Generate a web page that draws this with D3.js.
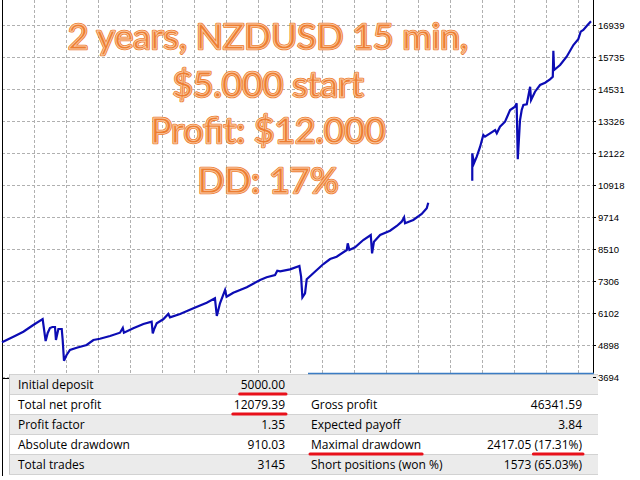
<!DOCTYPE html>
<html>
<head>
<meta charset="utf-8">
<script src="https://cdn.jsdelivr.net/npm/d3@7"></script>
<style>
  body { margin: 0; background: #fff; }
  svg { display: block; }
</style>
</head>
<body>
<svg id="chart" width="640" height="480"></svg>
<script>
// balance curve: trade number -> balance (null = gap in the curve)
const tradeNo = [0, 69, 114, 167, 217, 233, 244, 256, 269, 283, 288, 301, 319, 324, 331, 345, 363, 399, 452, 488,
    523, 577, 630, 645, 651, 701, 755, 799, 805, 812, 826, 861, 888, 897, 951, 1022, 1093, 1137, 1147, 1164,
    1191, 1199, 1235, 1307, 1378, 1413, 1458, 1470, 1485, 1538, 1588, 1597, 1604, 1618, 1627, 1662, 1716, 1752, 1787, 1841,
    1846, 1855, 1885, 1929, 1969, 1976, 1986, 2019, 2072, 2108, 2134, 2147, 2152, 2196, 2241, 2268, 2276,
    2390,
    2511, 2511, 2520, 2535, 2553, 2570, 2579, 2606, 2633, 2642, 2659, 2686, 2713, 2739, 2748, 2754, 2766, 2775, 2784, 2802,
    2820, 2825, 2846, 2873, 2900, 2926, 2941, 2944, 2948, 2980, 3015, 3051, 3077, 3090, 3104, 3122, 3145];
const balance = [5000, 5237, 5399, 5651, 5876, 5049, 5350, 5538, 5575, 5575, 5086, 5500, 5500, 5086, 4307, 4522, 4710, 4796, 4898, 5086,
    5135, 5237, 5361, 5538, 5361, 5526, 5688, 5775, 5338, 5489, 5714, 5865, 6065, 5940, 6065, 6279, 6490, 6655, 5989, 6467,
    6968, 6715, 6866, 7069, 7344, 7445, 7532, 7694, 7671, 7746, 7871, 7468, 6693, 6843, 7370, 7596, 7946, 8134, 8221, 8473,
    8725, 8473, 8574, 8849, 9037, 8348, 8785, 9037, 9199, 9376, 9538, 9703, 9477, 9602, 9827, 10042, 10253,
    null,
    11080, 12111, 11735, 11983, 12360, 12800, 12736, 12864, 12988, 12864, 13112, 13300, 13741, 13865, 13993, 11886, 13364, 13741, 13929, 13955,
    14617, 14117, 14429, 14681, 14768, 14896, 14994, 15972, 15246, 15434, 15746, 16186, 16401, 16687, 16751, 16901, 17079];

const totalTrades = 3145;
const yTicks = [3694, 4898, 6102, 7306, 8510, 9714, 10918, 12122, 13326, 14531, 15735, 16939];

const titleLines = ["2 years, NZDUSD 15 min,", "$5.000 start", "Profit: $12.000", "DD: 17%"];

// report table
const labelsLeft = ["Initial deposit", "Total net profit", "Profit factor", "Absolute drawdown", "Total trades"];
const valuesLeft = ["5000.00", "12079.39", "1.35", "910.03", "3145"];
const labelsRight = ["", "Gross profit", "Expected payoff", "Maximal drawdown", "Short positions (won %)"];
const valuesRight = ["", "46341.59", "3.84", "2417.05 (17.31%)", "1573 (65.03%)"];
// which bits got the red marker underline: [row, column, text]
const marked = [[0, 1, "5000.00"], [1, 1, "12079.39"], [3, 2, "Maximal drawdown"], [3, 3, "(17.31%)"]];

const svg = d3.select("#chart");
const plotLeft = 2, plotRight = 593, plotBottom = 378;

const x = d3.scaleLinear().domain([0, totalTrades]).range([plotLeft, 591]);
const y = d3.scaleLinear().domain([yTicks[0], yTicks[yTicks.length - 1]]).range([377, 25]);

// dashed grid
const gridColor = "#b0b0b0";
const vGrid = d3.range(34, plotRight - 8, 32);
svg.append("g").attr("class", "vgrid")
    .selectAll("line").data(vGrid).join("line")
    .attr("x1", d => d + 0.5).attr("x2", d => d + 0.5)
    .attr("y1", 0).attr("y2", plotBottom)
    .attr("stroke", gridColor).attr("stroke-dasharray", "3,2");
svg.append("g").attr("class", "hgrid")
    .selectAll("line").data(yTicks).join("line")
    .attr("x1", plotLeft).attr("x2", plotRight)
    .attr("y1", d => Math.round(y(d)) + 0.5).attr("y2", d => Math.round(y(d)) + 0.5)
    .attr("stroke", gridColor).attr("stroke-dasharray", "3,2");

// frame
svg.append("line").attr("x1", plotLeft + 0.5).attr("x2", plotLeft + 0.5).attr("y1", 0).attr("y2", 476)
    .attr("stroke", "#000");
svg.append("line").attr("x1", plotLeft).attr("x2", plotRight).attr("y1", plotBottom + 0.5).attr("y2", plotBottom + 0.5)
    .attr("stroke", "#000");
svg.append("line").attr("x1", plotRight + 0.5).attr("x2", plotRight + 0.5).attr("y1", 0).attr("y2", 373)
    .attr("stroke", "#000");

// balance line
const points = tradeNo.map((t, i) => ({t: t, v: balance[i]}));
const balanceLine = d3.line()
    .defined(d => d.v !== null)
    .x(d => x(d.t))
    .y(d => y(d.v));
svg.append("path")
    .datum(points)
    .attr("fill", "none")
    .attr("stroke", "#0c0cb4")
    .attr("stroke-width", 2.2)
    .attr("d", balanceLine);

// title, orange with a light inner outline
const titleFont = "Lato, 'Open Sans', sans-serif";
const probe = svg.append("text").attr("font-family", titleFont).attr("font-size", 40).text(titleLines[0]);
const titleSize = 40 * 400 / probe.node().getComputedTextLength();
probe.remove();
const baselines = [49, 97, 143, 193];
const title = svg.append("g")
    .attr("font-family", titleFont)
    .attr("font-size", titleSize)
    .attr("text-anchor", "middle");
title.selectAll(".outer").data(titleLines).enter().append("text")
    .attr("x", 268).attr("y", (d, i) => baselines[i])
    .attr("fill", "#ed7d31").attr("stroke", "#ed7d31")
    .attr("stroke-width", 2.6).attr("stroke-linejoin", "round")
    .text(d => d);
title.selectAll(".inner").data(titleLines).enter().append("text")
    .attr("x", 268).attr("y", (d, i) => baselines[i])
    .attr("fill", "none").attr("stroke", "#f9caa6")
    .attr("stroke-width", 0.9)
    .text(d => d);

// report table drawn over the chart
const tableTop = 374, rowH = 20, tableLeft = 9, tableRight = 598;
const table = svg.append("g");
table.selectAll(".row").data(labelsLeft).enter().append("rect")
    .attr("x", tableLeft).attr("y", (d, i) => tableTop + i * rowH)
    .attr("width", tableRight - tableLeft).attr("height", rowH)
    .attr("fill", (d, i) => i % 2 === 0 ? "#ebebeb" : "#ffffff");
table.selectAll(".sep").data(d3.range(labelsLeft.length + 1)).enter().append("line")
    .attr("x1", tableLeft).attr("x2", tableRight)
    .attr("y1", d => tableTop + d * rowH + 0.5).attr("y2", d => tableTop + d * rowH + 0.5)
    .attr("stroke", "#d2d2d2");
table.append("line").attr("x1", tableLeft + 0.5).attr("x2", tableLeft + 0.5)
    .attr("y1", tableTop).attr("y2", tableTop + 5 * rowH).attr("stroke", "#c8c8c8");
svg.append("line").attr("x1", 308).attr("x2", plotRight + 1).attr("y1", 373.5).attr("y2", 373.5)
    .attr("stroke", "#3a7cc4").attr("stroke-width", 1.5);

const columns = [
    {texts: labelsLeft, x: 18, anchor: "start"},
    {texts: valuesLeft, x: 285, anchor: "end"},
    {texts: labelsRight, x: 311, anchor: "start"},
    {texts: valuesRight, x: 582, anchor: "end"}
];
const cells = {};
columns.forEach((col, c) => {
    table.selectAll(".c" + c).data(col.texts).enter().append("text")
        .attr("x", col.x).attr("y", (d, i) => tableTop + i * rowH + 14.5)
        .attr("text-anchor", col.anchor)
        .attr("font-family", "'Open Sans', 'Noto Sans', sans-serif")
        .attr("font-size", 12)
        .attr("fill", "#000")
        .text(d => d)
        .each(function(d, i) { cells[i + "_" + c] = this; });
});

// red marker underlines
marked.forEach(([r, c, part]) => {
    const node = cells[r + "_" + c];
    const idx = node.textContent.indexOf(part);
    const x0 = node.getStartPositionOfChar(idx).x;
    const x1 = node.getEndPositionOfChar(idx + part.length - 1).x;
    svg.append("line")
        .attr("x1", x0 - 1).attr("x2", x1 + 1)
        .attr("y1", tableTop + (r + 1) * rowH).attr("y2", tableTop + (r + 1) * rowH)
        .attr("stroke", "#e8101a").attr("stroke-width", 3).attr("stroke-linecap", "round");
});

// right price axis
const axis = svg.append("g")
    .attr("transform", `translate(${plotRight},0)`)
    .call(d3.axisRight(y).tickValues(yTicks).tickSize(3).tickPadding(2).tickFormat(d3.format("d")));
axis.select(".domain").remove();
axis.selectAll("text")
    .attr("font-family", "'Liberation Sans', Arial, sans-serif")
    .attr("font-size", 9.5)
    .attr("fill", "#000");
</script>
</body>
</html>
